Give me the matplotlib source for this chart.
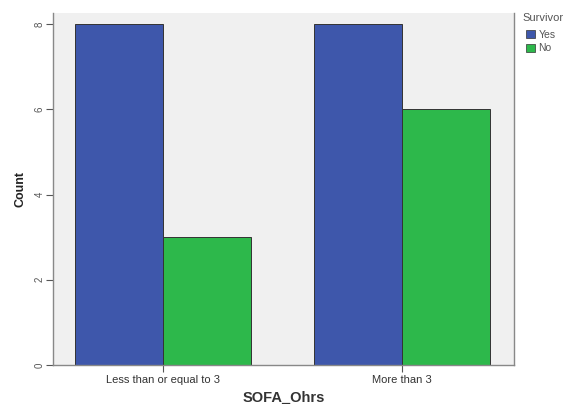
import matplotlib
matplotlib.use("Agg")
import matplotlib.pyplot as plt
import numpy as np
from matplotlib.patches import Patch

plt.rcParams['font.family'] = ['Liberation Sans', 'DejaVu Sans']

categories = ["Less than or equal to 3", "More than 3"]
yes_counts = [8, 8]
no_counts = [3, 6]
series_names = ["Yes", "No"]
legend_title = "Survivor"
yticks = [0, 2, 4, 6, 8]

blue = "#3E57AB"
green = "#2DB84B"

fig = plt.figure(figsize=(5.72, 4.04), dpi=100)
ax = fig.add_axes([0.0927, 0.0965, 0.8059, 0.8713])
ax.set_facecolor("#F0F0F0")

x = np.arange(len(categories))
w = 0.368
ax.bar(x - w / 2, yes_counts, width=w, color=blue, edgecolor="#333333", linewidth=0.7)
ax.bar(x + w / 2, no_counts, width=w, color=green, edgecolor="#333333", linewidth=0.7)

ax.set_xlim(-0.46, 1.469)
ax.set_ylim(0, 8.26)
ax.set_xticks(x)
ax.set_xticklabels(categories, fontsize=8, color="#333333")
ax.set_yticks(yticks)
ax.set_yticklabels([str(t) for t in yticks], fontsize=7, color="#555555", rotation=90, va="center")
ax.tick_params(axis="both", length=5, width=0.8, color="#555555", pad=2)
ax.tick_params(axis="y", pad=1)

for s in ["left", "bottom", "right"]:
    ax.spines[s].set_color("#888888")
    ax.spines[s].set_linewidth(1.0)
ax.spines["top"].set_visible(False)

ax.set_xlabel("SOFA_Ohrs", fontsize=10.5, fontweight="bold", color="#333333", labelpad=4)
ax.set_ylabel("Count", fontsize=9, fontweight="bold", color="#222222", labelpad=6)

fig.text(522 / 572, 1 - 18 / 404, legend_title, fontsize=8, color="#555555",
         ha="left", va="center")
handles = [Patch(facecolor=blue, edgecolor="#333333", linewidth=0.5),
           Patch(facecolor=green, edgecolor="#333333", linewidth=0.5)]
leg = fig.legend(handles, series_names, loc="upper left",
                 bbox_to_anchor=(524 / 572, 1 - 28 / 404), frameon=False, fontsize=7.5,
                 handlelength=0.9, handleheight=0.8,
                 handletextpad=0.3, labelspacing=0.3, borderaxespad=0.0,
                 borderpad=0.2)
for t in leg.get_texts():
    t.set_color("#555555")

fig.savefig("out.png", dpi=100)
